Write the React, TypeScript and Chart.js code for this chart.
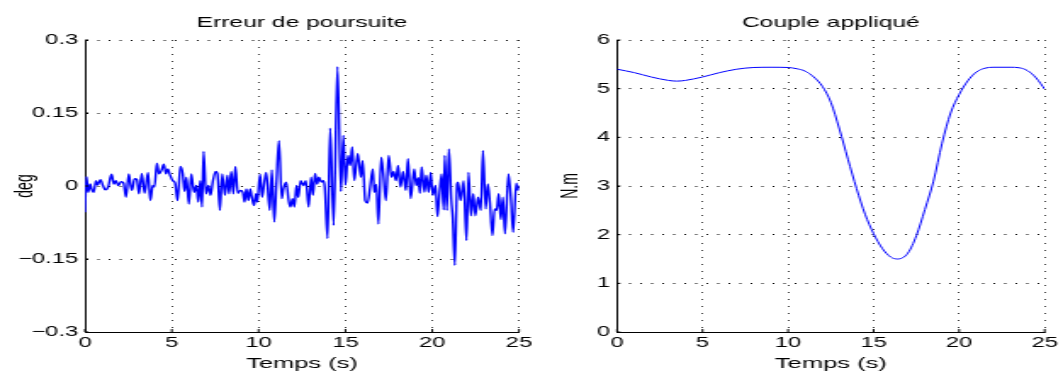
import React, { useEffect, useRef } from 'react';
import { Chart, registerables } from 'chart.js';

Chart.register(...registerables);

// ---------- data ----------
const xTicks = [0, 5, 10, 15, 20, 25];
const errYTicks = [-0.3, -0.15, 0, 0.15, 0.3];
const torqueYTicks = [0, 1, 2, 3, 4, 5, 6];

const errTime = [
  0, 0.08, 0.18, 0.3, 0.38, 0.5, 0.63, 0.73, 0.89, 1.03, 1.17, 1.33, 1.53, 1.66, 1.78, 1.92,
  2.08, 2.22, 2.36, 2.52, 2.63, 2.71, 2.85, 2.99, 3.11, 3.27, 3.43, 3.63, 3.76, 3.9, 4.0, 4.14,
  4.26, 4.4, 4.54, 4.66, 4.77, 4.89, 5.05, 5.19, 5.33, 5.49, 5.63, 5.73, 5.84, 5.98, 6.12, 6.28,
  6.42, 6.52, 6.64, 6.74, 6.83, 6.97, 7.11, 7.23, 7.37, 7.53, 7.63, 7.77, 7.9, 8.06, 8.2, 8.3,
  8.42, 8.54, 8.66, 8.8, 8.95, 9.09, 9.19, 9.29, 9.41, 9.51, 9.61, 9.73, 9.85, 9.92, 10.08, 10.2,
  10.34, 10.44, 10.64, 10.76, 10.9, 11.03, 11.17, 11.33, 11.43, 11.59, 11.73, 11.83, 11.95, 12.06,
  12.18, 12.28, 12.42, 12.58, 12.72, 12.88, 13.02, 13.13, 13.25, 13.37, 13.47, 13.61, 13.73, 13.81,
  13.97, 14.12, 14.32, 14.54, 14.74, 14.88, 15.0, 15.15, 15.27, 15.39, 15.51, 15.71, 15.89, 15.99,
  16.14, 16.28, 16.42, 16.58, 16.66, 16.78, 16.9, 17.06, 17.18, 17.33, 17.49, 17.65, 17.77, 17.91,
  18.03, 18.17, 18.32, 18.48, 18.6, 18.76, 18.96, 19.08, 19.2, 19.29, 19.39, 19.55, 19.65, 19.79,
  19.91, 20.03, 20.19, 20.3, 20.42, 20.54, 20.66, 20.72, 20.84, 20.96, 21.1, 21.18, 21.3, 21.43,
  21.49, 21.63, 21.81, 21.97, 22.09, 22.23, 22.36, 22.48, 22.64, 22.8, 22.92, 23.08, 23.2, 23.32,
  23.47, 23.59, 23.71, 23.83, 23.95, 24.07, 24.19, 24.39, 24.54, 24.66, 24.84, 24.94, 25.0,
];
const errValues = [
  -0.054, 0.019, -0.013, 0.004, -0.006, -0.013, 0.011, 0.002, 0.013, 0.001, -0.008, -0.002, 0.024, 0.004, 0.011, 0.001,
  0.009, 0.006, -0.023, 0.025, 0.001, -0.009, 0.015, 0.013, -0.016, 0.026, -0.015, 0.028, -0.03, 0.001, -0.002, 0.047,
  0.025, 0.032, 0.045, 0.025, 0.035, 0.023, 0.011, 0.006, -0.03, 0.04, 0.025, -0.011, 0.018, -0.037, 0.025, -0.013,
  0.001, -0.033, 0.011, -0.043, 0.071, -0.016, 0.001, -0.019, 0.011, 0.03, 0.025, -0.05, 0.025, -0.019, 0.022, -0.016,
  0.03, -0.016, 0.04, -0.015, -0.009, -0.013, -0.033, -0.006, -0.03, -0.006, -0.023, -0.04, -0.016, -0.033, 0.024, -0.023,
  0.011, 0.028, -0.05, 0.033, -0.074, 0.011, 0.093, -0.026, -0.006, 0.008, -0.03, -0.043, -0.026, -0.043,
  0.001, -0.023, 0.011, 0.001, 0.011, -0.043, 0.018, -0.019, 0.026, 0.004, 0.018, 0.008, 0.011, -0.002,
  -0.108, 0.119, -0.081, 0.245, -0.011, 0.104, 0.002, 0.063, 0.042, 0.08, 0.011, 0.067, 0.018, 0.052,
  -0.03, -0.035, -0.002, 0.035, -0.013, 0.003, -0.078, 0.059, 0.025, -0.03, 0.063, 0.018, 0.03, 0.011,
  0.042, -0.002, 0.03, -0.009, 0.056, -0.026, 0.035, 0.001, 0.017, -0.015, 0.039, -0.013, 0.022, -0.013,
  0.028, -0.019, 0.001, -0.063, -0.015, 0.025, -0.049, 0.063, -0.05, 0.076, -0.03, -0.064, -0.163, 0.004,
  0.008, -0.03, 0.011, -0.112, 0.028, -0.061, -0.016, -0.061, -0.023, -0.05, 0.073, -0.047, 0.004, -0.033,
  -0.102, -0.047, -0.05, -0.016, -0.069, -0.023, -0.098, 0.025, -0.03, -0.095, 0.006, -0.009, 0.001,
];

const torqueTime = [
  0, 1, 2, 3, 3.5, 4, 5, 6, 7, 8, 9, 10, 10.5, 11, 11.5, 12, 12.5, 13, 13.5, 14, 14.5, 15, 15.5,
  16, 16.4, 17, 17.5, 18, 18.5, 19, 19.5, 20, 20.5, 21, 21.5, 22, 23, 23.5, 24, 24.5, 25,
];
const torqueValues = [
  5.4, 5.33, 5.24, 5.17, 5.155, 5.17, 5.24, 5.33, 5.4, 5.435, 5.44, 5.435, 5.41, 5.36, 5.24, 5.05, 4.72,
  4.17, 3.55, 2.95, 2.42, 2.02, 1.72, 1.54, 1.5, 1.62, 1.98, 2.52, 3.1, 3.88, 4.5, 4.88, 5.16, 5.34,
  5.42, 5.44, 5.44, 5.43, 5.37, 5.22, 4.99,
];

// ---------- styling ----------
const FONT = "'Liberation Sans', Arial, Helvetica, sans-serif";
const STRETCH = 1.698; // the figure is horizontally stretched
const CANVAS_H = 374;

const fmt = (v: number) => {
  const r = Math.round(v * 1000) / 1000;
  return r < 0 ? '\u2212' + String(Math.abs(r)) : String(r);
};

const innerTicks = {
  id: 'innerTicks',
  afterDatasetsDraw(chart: any) {
    const { ctx, chartArea, scales } = chart;
    ctx.save();
    ctx.strokeStyle = '#000';
    ctx.lineWidth = 1;
    ctx.beginPath();
    for (const t of scales.x.ticks) {
      const px = scales.x.getPixelForValue(t.value);
      ctx.moveTo(px, chartArea.bottom);
      ctx.lineTo(px, chartArea.bottom - 3);
    }
    for (const t of scales.y.ticks) {
      const py = scales.y.getPixelForValue(t.value);
      ctx.moveTo(chartArea.left, py);
      ctx.lineTo(chartArea.left + 2, py);
    }
    ctx.stroke();
    ctx.restore();
  },
};

type Panel = {
  title: string;
  yTitle: string;
  xs: number[];
  ys: number[];
  yTicks: number[];
  yAxisWidth: number;
  rightPad: number;
  yTitlePad: number;
  lineWidth: number;
};

function makeConfig(p: Panel): any {
  const font = { family: FONT, size: 14, weight: 'normal' as const };
  const data = p.xs.map((x, i) => ({ x, y: p.ys[i] }));
  return {
    type: 'line',
    data: {
      datasets: [
        {
          data,
          borderColor: '#0000ff',
          borderWidth: p.lineWidth,
          pointRadius: 0,
          fill: false,
          cubicInterpolationMode: 'monotone',
        },
      ],
    },
    plugins: [innerTicks],
    options: {
      animation: false,
      responsive: false,
      devicePixelRatio: 1,
      layout: { padding: { left: 0, right: p.rightPad, top: 0, bottom: 0 } },
      plugins: {
        legend: { display: false },
        tooltip: { enabled: false },
        title: {
          display: true,
          fullSize: false,
          text: p.title,
          color: '#000',
          font: { family: FONT, size: 14.5, weight: 'normal' },
          padding: { top: 14, bottom: 8.6 },
        },
      },
      scales: {
        x: {
          type: 'linear',
          min: 0,
          max: 25,
          afterBuildTicks: (s: any) => {
            s.ticks = xTicks.map((v) => ({ value: v }));
          },
          afterFit: (s: any) => {
            s.height = 42;
          },
          ticks: {
            font,
            color: '#000',
            padding: 3,
            maxRotation: 0,
            autoSkip: false,
            callback: (v: any) => fmt(Number(v)),
          },
          grid: { color: '#000', lineWidth: 0.8, drawTicks: false },
          border: { display: true, color: '#000', width: 1, dash: [1, 6] },
          title: {
            display: true,
            text: 'Temps (s)',
            color: '#000',
            font: { family: FONT, size: 15, weight: 'normal' },
            padding: { top: 0, bottom: 1 },
          },
        },
        y: {
          type: 'linear',
          min: p.yTicks[0],
          max: p.yTicks[p.yTicks.length - 1],
          afterBuildTicks: (s: any) => {
            s.ticks = p.yTicks.map((v) => ({ value: v }));
          },
          afterFit: (s: any) => {
            s.width = p.yAxisWidth;
          },
          ticks: {
            font,
            color: '#000',
            padding: 4,
            autoSkip: false,
            callback: (v: any) => fmt(Number(v)),
          },
          grid: { color: '#000', lineWidth: 1, drawTicks: false },
          border: { display: true, color: '#000', width: 1, dash: [1, 5.5] },
          title: {
            display: true,
            text: p.yTitle,
            color: '#000',
            font,
            padding: { top: p.yTitlePad, bottom: 0 },
          },
        },
      },
    },
  };
}

const leftPanel: Panel = {
  title: 'Erreur de poursuite',
  yTitle: 'deg',
  xs: errTime,
  ys: errValues,
  yTicks: errYTicks,
  yAxisWidth: 50.06,
  rightPad: 12.35,
  yTitlePad: 6.9,
  lineWidth: 1.4,
};

const rightPanel: Panel = {
  title: 'Couple appliqué',
  yTitle: 'N.m',
  xs: torqueTime,
  ys: torqueValues,
  yTicks: torqueYTicks,
  yAxisWidth: 45.35,
  rightPad: 7.06,
  yTitlePad: 9.8,
  lineWidth: 1,
};

function ChartPanel({ panel, left, displayWidth }: { panel: Panel; left: number; displayWidth: number }) {
  const ref = useRef<HTMLCanvasElement | null>(null);
  const internalWidth = Math.round(displayWidth / STRETCH);
  useEffect(() => {
    if (!ref.current) return;
    const chart = new Chart(ref.current, makeConfig(panel));
    return () => chart.destroy();
  }, [panel]);
  return (
    <canvas
      ref={ref}
      width={internalWidth}
      height={CANVAS_H}
      style={{
        position: 'absolute',
        left: `${left}px`,
        top: '0px',
        width: `${displayWidth}px`,
        height: `${CANVAS_H}px`,
      }}
    />
  );
}

export default function App() {
  return (
    <div
      style={{
        position: 'absolute',
        left: 0,
        top: 0,
        width: '1063px',
        height: '374px',
        background: '#fff',
        overflow: 'hidden',
      }}
    >
      <ChartPanel panel={leftPanel} left={0} displayWidth={540} />
      <ChartPanel panel={rightPanel} left={540} displayWidth={523} />
    </div>
  );
}
